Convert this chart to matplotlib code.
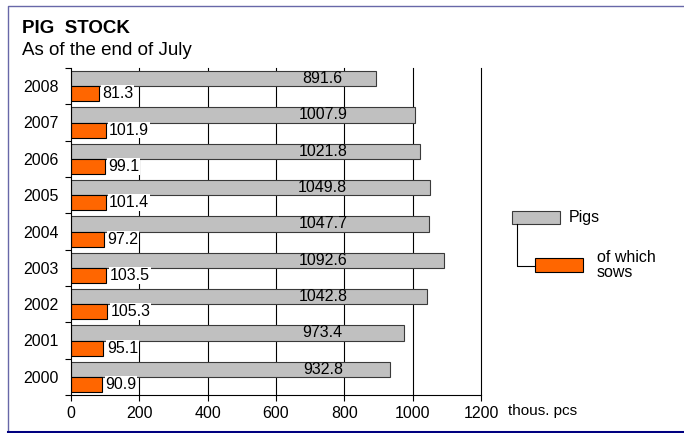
import matplotlib
matplotlib.use("Agg")
import matplotlib.pyplot as plt
from matplotlib.patches import Rectangle
from matplotlib.lines import Line2D
import matplotlib.transforms as mtransforms
import numpy as np

plt.rcParams['font.family'] = ['Liberation Sans', 'DejaVu Sans']

years = ["2000", "2001", "2002", "2003", "2004", "2005", "2006", "2007", "2008"]
pigs = [932.8, 973.4, 1042.8, 1092.6, 1047.7, 1049.8, 1021.8, 1007.9, 891.6]
sows = [90.9, 95.1, 105.3, 103.5, 97.2, 101.4, 99.1, 101.9, 81.3]
x_ticks = [0, 200, 400, 600, 800, 1000, 1200]

W, H = 684, 433
FS = 11.5
fig = plt.figure(figsize=(W / 100, H / 100), dpi=100)

ax = fig.add_axes([71 / W, 1 - 395 / H, 410 / W, 327 / H])
pos = np.arange(len(years))
bh = 0.42

for xv in x_ticks[1:]:
    ax.axvline(xv, color="black", lw=0.8, zorder=1, clip_on=False)

ax.barh(pos + bh / 2, pigs, height=bh, color="#c0c0c0", edgecolor="#3a3a3a",
        linewidth=0.8, zorder=2)
ax.barh(pos - bh / 2, sows, height=bh, color="#ff6600", edgecolor="black",
        linewidth=0.8, zorder=2)

for p, v in zip(pos, pigs):
    ax.text(737, p + bh / 2, f"{v:.1f}", ha="center", va="center",
            fontsize=FS, zorder=3)
for p, v in zip(pos, sows):
    ax.text(v + 10, p - bh / 2, f"{v:.1f}", ha="left", va="center",
            fontsize=FS, zorder=3,
            bbox=dict(facecolor="white", edgecolor="none", pad=0.6))

ax.set_xlim(0, 1200)
ax.set_ylim(-0.5, len(years) - 0.5)
ax.set_xticks(x_ticks)
ax.set_xticklabels([str(t) for t in x_ticks], fontsize=FS)
ax.set_yticks(pos)
ax.set_yticklabels(years, fontsize=FS)
ax.set_yticks(np.arange(len(years) + 1) - 0.5, minor=True)
ax.tick_params(axis="y", which="major", length=0, pad=9)
ax.tick_params(axis="y", which="minor", length=4, direction="out", width=0.8)
ax.tick_params(axis="x", length=4, direction="out", width=0.8, pad=4)
for s in ("top", "right"):
    ax.spines[s].set_visible(False)
for s in ("left", "bottom"):
    ax.spines[s].set_linewidth(0.8)
ax.set_axisbelow(True)

# unit label to the right of the last tick label
fig.text(508 / W, 1 - 411 / H, "thous. pcs", fontsize=11, ha="left",
         va="center")

# titles
fig.text(22 / W, 1 - 33 / H, "PIG  STOCK", fontsize=13.5, fontweight="bold",
         ha="left", va="baseline")
fig.text(22 / W, 1 - 55 / H, "As of the end of July", fontsize=13.5,
         ha="left", va="baseline")

# legend
def px_rect(x0, y0, x1, y1, fc, ec):
    fig.patches.append(Rectangle((x0 / W, 1 - y1 / H), (x1 - x0) / W,
                                 (y1 - y0) / H, transform=fig.transFigure,
                                 facecolor=fc, edgecolor=ec, lw=0.8))

px_rect(512, 211, 560, 224, "#c0c0c0", "#3a3a3a")
px_rect(535, 258, 583, 272, "#ff6600", "black")
fig.lines.append(Line2D([517 / W, 517 / W, 535 / W],
                        [1 - 224 / H, 1 - 266 / H, 1 - 266 / H],
                        transform=fig.transFigure, color="black", lw=0.8))
fig.text(569 / W, 1 - 217 / H, "Pigs", fontsize=FS, ha="left", va="center")
fig.text(597 / W, 1 - 265 / H, "of which\nsows", fontsize=FS, ha="left",
         va="center", linespacing=1.0)

# page frame
fig.lines.append(Line2D([8 / W, 8 / W, 1.0], [1 - 430 / H, 1 - 6 / H, 1 - 6 / H],
                        transform=fig.transFigure, color="#6868a8", lw=1.0))
fig.lines.append(Line2D([8 / W, 1.0], [1 - 431.5 / H, 1 - 431.5 / H],
                        transform=fig.transFigure, color="#000080", lw=2.2))

fig.savefig("out.png", dpi=100)
